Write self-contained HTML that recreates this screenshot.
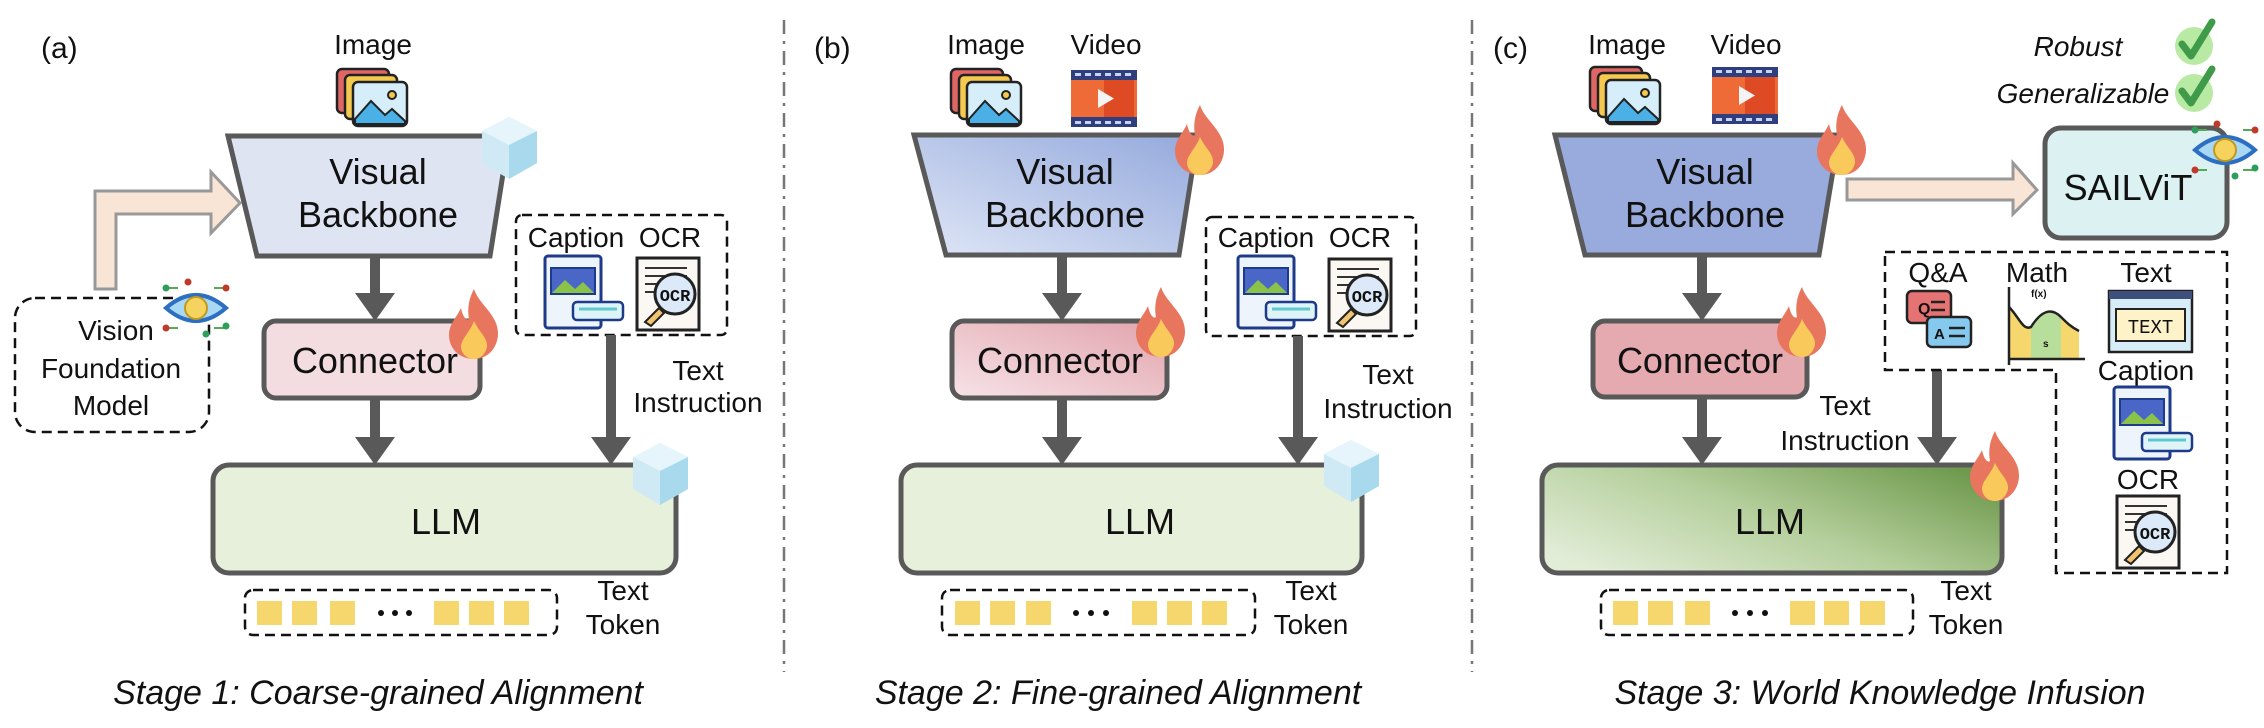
<!DOCTYPE html>
<html><head><meta charset="utf-8"><style>
html,body{margin:0;padding:0;background:#fff}
svg{display:block}
text{font-family:"Liberation Sans",Arial,sans-serif;fill:#111}
.big{font-size:36px}
.sm{font-size:28px}
.st{font-size:34px;font-style:italic}
.it{font-size:28px;font-style:italic}
</style></head><body>
<svg width="2264" height="728" viewBox="0 0 2264 728" xmlns="http://www.w3.org/2000/svg">
<defs>
<linearGradient id="gb" x1="0" y1="1" x2="1" y2="0"><stop offset="0" stop-color="#dfe6f6"/><stop offset="1" stop-color="#94a9dc"/></linearGradient>
<linearGradient id="gp" x1="0" y1="1" x2="1" y2="0"><stop offset="0" stop-color="#f6e3e7"/><stop offset="1" stop-color="#e2a3ac"/></linearGradient>
<linearGradient id="gl" x1="0" y1="0.8" x2="1" y2="0.2"><stop offset="0" stop-color="#e2edd8"/><stop offset="0.5" stop-color="#b5cf9c"/><stop offset="1" stop-color="#6f9a4e"/></linearGradient>
</defs>

<!-- separators -->
<line x1="784" y1="20" x2="784" y2="672" stroke="#777" stroke-width="2.5" stroke-dasharray="14 7 3 7"/>
<line x1="1472" y1="20" x2="1472" y2="672" stroke="#777" stroke-width="2.5" stroke-dasharray="14 7 3 7"/>

<!-- ================= PANEL A ================= -->
<text x="41" y="58" style="font-size:30px">(a)</text>
<text x="373" y="54" class="sm" text-anchor="middle">Image</text>
<g transform="translate(337,69)">
<rect x="0" y="0" width="52" height="44" rx="5" fill="#e06666" stroke="#222" stroke-width="2.5"/>
<rect x="8" y="6" width="52" height="44" rx="5" fill="#f5c94f" stroke="#222" stroke-width="2.5"/>
<rect x="16" y="13" width="54" height="44" rx="5" fill="#d6eefa" stroke="#222" stroke-width="2.5"/>
<path d="M18 50 L34 32 L48 46 L55 40 L68 52 L68 55 L18 55Z" fill="#4ab0e6" stroke="#222" stroke-width="2"/>
<circle cx="55" cy="26" r="4" fill="#f5c94f" stroke="#222" stroke-width="2"/>
</g>
<polygon points="228,136 509,136 490,256 257,256" fill="#dfe4f3" stroke="#595959" stroke-width="5"/>
<text x="378" y="184" class="big" text-anchor="middle">Visual</text>
<text x="378" y="227" class="big" text-anchor="middle">Backbone</text>
<g transform="translate(482,117)"><polygon points="27,0 55,14 55,46 27,62 0,46 0,14" fill="#cfeaf5"/><polygon points="27,0 55,14 27,28 0,14" fill="#e6f5fb"/><polygon points="27,28 55,14 55,46 27,62" fill="#a8d9ec"/></g>
<path d="M370 256 h10 v37 h15 l-20 28 l-20 -28 h15z" fill="#595959"/>
<rect x="264" y="321" width="216" height="77" rx="12" fill="#f3dde0" stroke="#595959" stroke-width="5"/>
<text x="375" y="373" class="big" text-anchor="middle">Connector</text>
<g transform="translate(448,289)"><path d="M26 0 C31 16 51 26 50 46 C49 60 39 70 26 70 C12 70 1 60 1 46 C1 35 9 28 13 19 C15 29 19 32 21 30 C19 20 21 9 26 0Z" fill="#e8765f"/><path d="M26 32 C31 43 40 49 39 58 C37 66 32 70 26 70 C19 70 13 65 13 57 C14 49 22 43 26 32Z" fill="#f9c95c"/></g>
<path d="M370 398 h10 v39 h15 l-20 28 l-20 -28 h15z" fill="#595959"/>
<rect x="213" y="465" width="463" height="108" rx="16" fill="#e6f0da" stroke="#595959" stroke-width="5"/>
<text x="446" y="534" class="big" text-anchor="middle">LLM</text>
<g transform="translate(633,443)"><polygon points="27,0 55,14 55,46 27,62 0,46 0,14" fill="#cfeaf5"/><polygon points="27,0 55,14 27,28 0,14" fill="#e6f5fb"/><polygon points="27,28 55,14 55,46 27,62" fill="#a8d9ec"/></g>
<rect x="245" y="590" width="312" height="45" rx="8" fill="none" stroke="#111" stroke-width="2.5" stroke-dasharray="10 6"/>
<g fill="#f5d76e"><rect x="257" y="601" width="25" height="24"/><rect x="292" y="601" width="25" height="24"/><rect x="330" y="601" width="25" height="24"/><rect x="434" y="601" width="25" height="24"/><rect x="469" y="601" width="25" height="24"/><rect x="504" y="601" width="25" height="24"/></g>
<g fill="#111"><circle cx="381" cy="613" r="3"/><circle cx="395" cy="613" r="3"/><circle cx="409" cy="613" r="3"/></g>
<text x="623" y="600" class="sm" text-anchor="middle">Text</text>
<text x="623" y="634" class="sm" text-anchor="middle">Token</text>
<rect x="516" y="215" width="211" height="120" rx="6" fill="none" stroke="#111" stroke-width="2.5" stroke-dasharray="10 6"/>
<text x="576" y="247" class="sm" text-anchor="middle">Caption</text>
<text x="670" y="247" class="sm" text-anchor="middle">OCR</text>
<g transform="translate(545,256)">
<rect x="0" y="0" width="56" height="72" rx="3" fill="#eef4fb" stroke="#1e3a8a" stroke-width="3"/>
<rect x="6" y="12" width="44" height="26" fill="#4a67c7" stroke="#1e3a8a" stroke-width="2"/>
<path d="M7 37 L20 24 L30 33 L38 26 L49 37Z" fill="#8bc34a"/>
<rect x="28" y="46" width="50" height="18" rx="4" fill="#dff4f6" stroke="#1e3a8a" stroke-width="2.5"/>
<line x1="34" y1="53" x2="72" y2="53" stroke="#5fc7d0" stroke-width="3"/>
</g>
<g transform="translate(637,258)">
<rect x="0" y="0" width="62" height="72" fill="#fbf7f2" stroke="#222" stroke-width="3"/>
<g stroke="#333" stroke-width="2"><line x1="8" y1="10" x2="50" y2="10"/><line x1="8" y1="18" x2="50" y2="18"/><line x1="8" y1="26" x2="20" y2="26"/><line x1="8" y1="34" x2="18" y2="34"/></g>
<circle cx="38" cy="36" r="20" fill="#dbe9f8" stroke="#222" stroke-width="3"/>
<text x="38" y="43" text-anchor="middle" style="font-size:17px;font-weight:bold;font-family:'Liberation Mono',monospace">OCR</text>
<path d="M22 50 L8 64 L14 68 L27 55Z" fill="#f2c46f" stroke="#222" stroke-width="2"/>
</g>
<path d="M606 335 h10 v102 h15 l-20 28 l-20 -28 h15z" fill="#595959"/>
<text x="698" y="380" class="sm" text-anchor="middle">Text</text>
<text x="698" y="412" class="sm" text-anchor="middle">Instruction</text>
<rect x="15" y="298" width="194" height="134" rx="20" fill="none" stroke="#111" stroke-width="2.5" stroke-dasharray="10 6"/>
<text x="116" y="340" class="sm" text-anchor="middle">Vision</text>
<text x="111" y="378" class="sm" text-anchor="middle">Foundation</text>
<text x="111" y="415" class="sm" text-anchor="middle">Model</text>
<g transform="translate(196,308)">
<path d="M-28 -20 h10 M18 -20 h10 M-28 20 h10 M18 20 h10" stroke="#5a5" stroke-width="2"/>
<circle cx="-30" cy="-20" r="3.5" fill="#2e9e5b"/><circle cx="-8" cy="-26" r="3.5" fill="#c0392b"/><circle cx="30" cy="-20" r="3.5" fill="#c0392b"/><circle cx="-30" cy="20" r="3.5" fill="#c0392b"/><circle cx="10" cy="26" r="3.5" fill="#2e9e5b"/><circle cx="30" cy="18" r="3.5" fill="#2e9e5b"/>
<path d="M-30 0 Q0 -26 30 0 Q0 26 -30 0Z" fill="#a9d8f5" stroke="#2c6fc2" stroke-width="4"/>
<circle cx="0" cy="0" r="11" fill="#f5d35e" stroke="#c09a1c" stroke-width="2"/>
</g>
<path d="M95 289 V191 H211 V172 L240 203 L211 233 V214 H116 V289Z" fill="#f8e5d6" stroke="#999" stroke-width="3"/>
<text x="378" y="704" class="st" text-anchor="middle">Stage 1: Coarse-grained Alignment</text>

<!-- ================= PANEL B ================= -->
<text x="814" y="58" style="font-size:30px">(b)</text>
<text x="986" y="54" class="sm" text-anchor="middle">Image</text>
<text x="1106" y="54" class="sm" text-anchor="middle">Video</text>
<g transform="translate(951,69)">
<rect x="0" y="0" width="52" height="44" rx="5" fill="#e06666" stroke="#222" stroke-width="2.5"/>
<rect x="8" y="6" width="52" height="44" rx="5" fill="#f5c94f" stroke="#222" stroke-width="2.5"/>
<rect x="16" y="13" width="54" height="44" rx="5" fill="#d6eefa" stroke="#222" stroke-width="2.5"/>
<path d="M18 50 L34 32 L48 46 L55 40 L68 52 L68 55 L18 55Z" fill="#4ab0e6" stroke="#222" stroke-width="2"/>
<circle cx="55" cy="26" r="4" fill="#f5c94f" stroke="#222" stroke-width="2"/>
</g>
<g transform="translate(1071,70)">
<rect x="0" y="0" width="66" height="57" fill="#ee6a36"/><rect x="33" y="10" width="30" height="37" fill="#dd4a24"/>
<rect x="0" y="0" width="66" height="10" fill="#2f3e7e"/><rect x="0" y="47" width="66" height="10" fill="#2f3e7e"/>
<g fill="#c9d3f0"><rect x="4" y="3" width="6" height="3"/><rect x="14" y="3" width="6" height="3"/><rect x="24" y="3" width="6" height="3"/><rect x="34" y="3" width="6" height="3"/><rect x="44" y="3" width="6" height="3"/><rect x="54" y="3" width="6" height="3"/><rect x="4" y="51" width="6" height="3"/><rect x="14" y="51" width="6" height="3"/><rect x="24" y="51" width="6" height="3"/><rect x="34" y="51" width="6" height="3"/><rect x="44" y="51" width="6" height="3"/><rect x="54" y="51" width="6" height="3"/></g>
<polygon points="27,19 43,28.5 27,38" fill="#f4f4f4"/>
</g>
<polygon points="914,135 1198,135 1179,255 946,255" fill="url(#gb)" stroke="#595959" stroke-width="5"/>
<text x="1065" y="184" class="big" text-anchor="middle">Visual</text>
<text x="1065" y="227" class="big" text-anchor="middle">Backbone</text>
<g transform="translate(1174,105)"><path d="M26 0 C31 16 51 26 50 46 C49 60 39 70 26 70 C12 70 1 60 1 46 C1 35 9 28 13 19 C15 29 19 32 21 30 C19 20 21 9 26 0Z" fill="#e8765f"/><path d="M26 32 C31 43 40 49 39 58 C37 66 32 70 26 70 C19 70 13 65 13 57 C14 49 22 43 26 32Z" fill="#f9c95c"/></g>
<path d="M1057 256 h10 v37 h15 l-20 28 l-20 -28 h15z" fill="#595959"/>
<rect x="952" y="321" width="215" height="77" rx="12" fill="url(#gp)" stroke="#595959" stroke-width="5"/>
<text x="1060" y="373" class="big" text-anchor="middle">Connector</text>
<g transform="translate(1135,287)"><path d="M26 0 C31 16 51 26 50 46 C49 60 39 70 26 70 C12 70 1 60 1 46 C1 35 9 28 13 19 C15 29 19 32 21 30 C19 20 21 9 26 0Z" fill="#e8765f"/><path d="M26 32 C31 43 40 49 39 58 C37 66 32 70 26 70 C19 70 13 65 13 57 C14 49 22 43 26 32Z" fill="#f9c95c"/></g>
<path d="M1057 398 h10 v39 h15 l-20 28 l-20 -28 h15z" fill="#595959"/>
<rect x="901" y="465" width="461" height="108" rx="16" fill="#e6f0da" stroke="#595959" stroke-width="5"/>
<text x="1140" y="534" class="big" text-anchor="middle">LLM</text>
<g transform="translate(1324,440)"><polygon points="27,0 55,14 55,46 27,62 0,46 0,14" fill="#cfeaf5"/><polygon points="27,0 55,14 27,28 0,14" fill="#e6f5fb"/><polygon points="27,28 55,14 55,46 27,62" fill="#a8d9ec"/></g>
<rect x="942" y="590" width="313" height="45" rx="8" fill="none" stroke="#111" stroke-width="2.5" stroke-dasharray="10 6"/>
<g fill="#f5d76e"><rect x="955" y="601" width="25" height="24"/><rect x="990" y="601" width="25" height="24"/><rect x="1026" y="601" width="25" height="24"/><rect x="1132" y="601" width="25" height="24"/><rect x="1167" y="601" width="25" height="24"/><rect x="1202" y="601" width="25" height="24"/></g>
<g fill="#111"><circle cx="1076" cy="613" r="3"/><circle cx="1091" cy="613" r="3"/><circle cx="1106" cy="613" r="3"/></g>
<text x="1311" y="600" class="sm" text-anchor="middle">Text</text>
<text x="1311" y="634" class="sm" text-anchor="middle">Token</text>
<rect x="1206" y="217" width="210" height="119" rx="6" fill="none" stroke="#111" stroke-width="2.5" stroke-dasharray="10 6"/>
<text x="1266" y="247" class="sm" text-anchor="middle">Caption</text>
<text x="1360" y="247" class="sm" text-anchor="middle">OCR</text>
<g transform="translate(1238,256)">
<rect x="0" y="0" width="56" height="72" rx="3" fill="#eef4fb" stroke="#1e3a8a" stroke-width="3"/>
<rect x="6" y="12" width="44" height="26" fill="#4a67c7" stroke="#1e3a8a" stroke-width="2"/>
<path d="M7 37 L20 24 L30 33 L38 26 L49 37Z" fill="#8bc34a"/>
<rect x="28" y="46" width="50" height="18" rx="4" fill="#dff4f6" stroke="#1e3a8a" stroke-width="2.5"/>
<line x1="34" y1="53" x2="72" y2="53" stroke="#5fc7d0" stroke-width="3"/>
</g>
<g transform="translate(1329,259)">
<rect x="0" y="0" width="62" height="72" fill="#fbf7f2" stroke="#222" stroke-width="3"/>
<g stroke="#333" stroke-width="2"><line x1="8" y1="10" x2="50" y2="10"/><line x1="8" y1="18" x2="50" y2="18"/><line x1="8" y1="26" x2="20" y2="26"/><line x1="8" y1="34" x2="18" y2="34"/></g>
<circle cx="38" cy="36" r="20" fill="#dbe9f8" stroke="#222" stroke-width="3"/>
<text x="38" y="43" text-anchor="middle" style="font-size:17px;font-weight:bold;font-family:'Liberation Mono',monospace">OCR</text>
<path d="M22 50 L8 64 L14 68 L27 55Z" fill="#f2c46f" stroke="#222" stroke-width="2"/>
</g>
<path d="M1293 336 h10 v101 h15 l-20 28 l-20 -28 h15z" fill="#595959"/>
<text x="1388" y="384" class="sm" text-anchor="middle">Text</text>
<text x="1388" y="418" class="sm" text-anchor="middle">Instruction</text>
<text x="1118" y="704" class="st" text-anchor="middle">Stage 2: Fine-grained Alignment</text>

<!-- ================= PANEL C ================= -->
<text x="1493" y="58" style="font-size:30px">(c)</text>
<text x="1627" y="54" class="sm" text-anchor="middle">Image</text>
<text x="1746" y="54" class="sm" text-anchor="middle">Video</text>
<g transform="translate(1590,67)">
<rect x="0" y="0" width="52" height="44" rx="5" fill="#e06666" stroke="#222" stroke-width="2.5"/>
<rect x="8" y="6" width="52" height="44" rx="5" fill="#f5c94f" stroke="#222" stroke-width="2.5"/>
<rect x="16" y="13" width="54" height="44" rx="5" fill="#d6eefa" stroke="#222" stroke-width="2.5"/>
<path d="M18 50 L34 32 L48 46 L55 40 L68 52 L68 55 L18 55Z" fill="#4ab0e6" stroke="#222" stroke-width="2"/>
<circle cx="55" cy="26" r="4" fill="#f5c94f" stroke="#222" stroke-width="2"/>
</g>
<g transform="translate(1712,67)">
<rect x="0" y="0" width="66" height="57" fill="#ee6a36"/><rect x="33" y="10" width="30" height="37" fill="#dd4a24"/>
<rect x="0" y="0" width="66" height="10" fill="#2f3e7e"/><rect x="0" y="47" width="66" height="10" fill="#2f3e7e"/>
<g fill="#c9d3f0"><rect x="4" y="3" width="6" height="3"/><rect x="14" y="3" width="6" height="3"/><rect x="24" y="3" width="6" height="3"/><rect x="34" y="3" width="6" height="3"/><rect x="44" y="3" width="6" height="3"/><rect x="54" y="3" width="6" height="3"/><rect x="4" y="51" width="6" height="3"/><rect x="14" y="51" width="6" height="3"/><rect x="24" y="51" width="6" height="3"/><rect x="34" y="51" width="6" height="3"/><rect x="44" y="51" width="6" height="3"/><rect x="54" y="51" width="6" height="3"/></g>
<polygon points="27,19 43,28.5 27,38" fill="#f4f4f4"/>
</g>
<polygon points="1555,135 1839,135 1819,255 1585,255" fill="#98abdc" stroke="#595959" stroke-width="5"/>
<text x="1705" y="184" class="big" text-anchor="middle">Visual</text>
<text x="1705" y="227" class="big" text-anchor="middle">Backbone</text>
<g transform="translate(1816,105)"><path d="M26 0 C31 16 51 26 50 46 C49 60 39 70 26 70 C12 70 1 60 1 46 C1 35 9 28 13 19 C15 29 19 32 21 30 C19 20 21 9 26 0Z" fill="#e8765f"/><path d="M26 32 C31 43 40 49 39 58 C37 66 32 70 26 70 C19 70 13 65 13 57 C14 49 22 43 26 32Z" fill="#f9c95c"/></g>
<path d="M1697 256 h10 v37 h15 l-20 28 l-20 -28 h15z" fill="#595959"/>
<rect x="1593" y="321" width="214" height="76" rx="12" fill="#e5aab0" stroke="#595959" stroke-width="5"/>
<text x="1700" y="373" class="big" text-anchor="middle">Connector</text>
<g transform="translate(1776,287)"><path d="M26 0 C31 16 51 26 50 46 C49 60 39 70 26 70 C12 70 1 60 1 46 C1 35 9 28 13 19 C15 29 19 32 21 30 C19 20 21 9 26 0Z" fill="#e8765f"/><path d="M26 32 C31 43 40 49 39 58 C37 66 32 70 26 70 C19 70 13 65 13 57 C14 49 22 43 26 32Z" fill="#f9c95c"/></g>
<path d="M1697 397 h10 v40 h15 l-20 28 l-20 -28 h15z" fill="#595959"/>
<rect x="1542" y="465" width="460" height="108" rx="16" fill="url(#gl)" stroke="#595959" stroke-width="5"/>
<text x="1770" y="534" class="big" text-anchor="middle">LLM</text>
<g transform="translate(1969,431)"><path d="M26 0 C31 16 51 26 50 46 C49 60 39 70 26 70 C12 70 1 60 1 46 C1 35 9 28 13 19 C15 29 19 32 21 30 C19 20 21 9 26 0Z" fill="#e8765f"/><path d="M26 32 C31 43 40 49 39 58 C37 66 32 70 26 70 C19 70 13 65 13 57 C14 49 22 43 26 32Z" fill="#f9c95c"/></g>
<rect x="1601" y="590" width="312" height="45" rx="8" fill="none" stroke="#111" stroke-width="2.5" stroke-dasharray="10 6"/>
<g fill="#f5d76e"><rect x="1613" y="601" width="25" height="24"/><rect x="1648" y="601" width="25" height="24"/><rect x="1685" y="601" width="25" height="24"/><rect x="1790" y="601" width="25" height="24"/><rect x="1824" y="601" width="25" height="24"/><rect x="1860" y="601" width="25" height="24"/></g>
<g fill="#111"><circle cx="1735" cy="613" r="3"/><circle cx="1750" cy="613" r="3"/><circle cx="1765" cy="613" r="3"/></g>
<text x="1966" y="600" class="sm" text-anchor="middle">Text</text>
<text x="1966" y="634" class="sm" text-anchor="middle">Token</text>
<path d="M1932 370 h10 v67 h15 l-20 28 l-20 -28 h15z" fill="#595959"/>
<text x="1845" y="415" class="sm" text-anchor="middle">Text</text>
<text x="1845" y="450" class="sm" text-anchor="middle">Instruction</text>
<path d="M1885 252 H2227 V573 H2056 V370 H1885 Z" fill="none" stroke="#111" stroke-width="2.5" stroke-dasharray="10 6"/>
<text x="1938" y="282" class="sm" text-anchor="middle">Q&amp;A</text>
<text x="2037" y="282" class="sm" text-anchor="middle">Math</text>
<text x="2146" y="282" class="sm" text-anchor="middle">Text</text>
<text x="2146" y="380" class="sm" text-anchor="middle">Caption</text>
<text x="2148" y="489" class="sm" text-anchor="middle">OCR</text>
<g transform="translate(1907,291)">
<rect x="0" y="0" width="44" height="32" rx="5" fill="#e57373" stroke="#222" stroke-width="2.5"/>
<text x="11" y="23" style="font-size:16px;font-weight:bold">Q</text>
<line x1="24" y1="11" x2="38" y2="11" stroke="#222" stroke-width="2.5"/><line x1="24" y1="19" x2="38" y2="19" stroke="#222" stroke-width="2.5"/>
<rect x="20" y="26" width="44" height="30" rx="5" fill="#86c9ee" stroke="#222" stroke-width="2.5"/>
<text x="27" y="48" style="font-size:15px;font-weight:bold">A</text>
<line x1="42" y1="37" x2="58" y2="37" stroke="#222" stroke-width="2.5"/><line x1="42" y1="45" x2="58" y2="45" stroke="#222" stroke-width="2.5"/>
</g>
<g transform="translate(2001,287)">
<path d="M8 20 C18 30 22 44 30 40 C40 24 50 20 60 30 C66 36 70 40 78 44 V72 H8Z" fill="#f5d76e"/>
<path d="M30 40 C40 24 50 20 60 30 V72 H30Z" fill="#b7df9b"/>
<path d="M8 20 C18 30 22 44 30 40 C40 24 50 20 60 30 C66 36 70 40 78 44" fill="none" stroke="#222" stroke-width="2.5"/>
<line x1="8" y1="72" x2="84" y2="72" stroke="#222" stroke-width="2.5"/><line x1="8" y1="0" x2="8" y2="78" stroke="#222" stroke-width="2.5"/>
<text x="30" y="10" style="font-size:10px;font-weight:bold">f(x)</text>
<text x="42" y="60" style="font-size:10px;font-weight:bold">s</text>
</g>
<g transform="translate(2109,291)">
<rect x="0" y="0" width="83" height="61" fill="#d6ecf7" stroke="#222" stroke-width="2.5"/>
<rect x="0" y="0" width="83" height="8" fill="#3d4f7a"/>
<rect x="7" y="18" width="69" height="32" fill="#fdf2c8" stroke="#222" stroke-width="2"/>
<text x="41.5" y="42" text-anchor="middle" style="font-size:19px;font-family:'Liberation Mono',monospace">TEXT</text>
</g>
<g transform="translate(2114,387)">
<rect x="0" y="0" width="56" height="72" rx="3" fill="#eef4fb" stroke="#1e3a8a" stroke-width="3"/>
<rect x="6" y="12" width="44" height="26" fill="#4a67c7" stroke="#1e3a8a" stroke-width="2"/>
<path d="M7 37 L20 24 L30 33 L38 26 L49 37Z" fill="#8bc34a"/>
<rect x="28" y="46" width="50" height="18" rx="4" fill="#dff4f6" stroke="#1e3a8a" stroke-width="2.5"/>
<line x1="34" y1="53" x2="72" y2="53" stroke="#5fc7d0" stroke-width="3"/>
</g>
<g transform="translate(2117,496)">
<rect x="0" y="0" width="62" height="72" fill="#fbf7f2" stroke="#222" stroke-width="3"/>
<g stroke="#333" stroke-width="2"><line x1="8" y1="10" x2="50" y2="10"/><line x1="8" y1="18" x2="50" y2="18"/><line x1="8" y1="26" x2="20" y2="26"/><line x1="8" y1="34" x2="18" y2="34"/></g>
<circle cx="38" cy="36" r="20" fill="#dbe9f8" stroke="#222" stroke-width="3"/>
<text x="38" y="43" text-anchor="middle" style="font-size:17px;font-weight:bold;font-family:'Liberation Mono',monospace">OCR</text>
<path d="M22 50 L8 64 L14 68 L27 55Z" fill="#f2c46f" stroke="#222" stroke-width="2"/>
</g>
<path d="M1847 179 H2013 V163 L2037 190 L2013 214 V200 H1847Z" fill="#f8e5d6" stroke="#999" stroke-width="3"/>
<rect x="2045" y="128" width="182" height="110" rx="16" fill="#dcf1f1" stroke="#595959" stroke-width="5"/>
<text x="2128" y="200" class="big" text-anchor="middle">SAILViT</text>
<g transform="translate(2225,150)">
<path d="M-28 -20 h10 M18 -20 h10 M-28 20 h10 M18 20 h10" stroke="#5a5" stroke-width="2"/>
<circle cx="-30" cy="-20" r="3.5" fill="#2e9e5b"/><circle cx="-8" cy="-26" r="3.5" fill="#c0392b"/><circle cx="30" cy="-20" r="3.5" fill="#c0392b"/><circle cx="-30" cy="20" r="3.5" fill="#c0392b"/><circle cx="10" cy="26" r="3.5" fill="#2e9e5b"/><circle cx="30" cy="18" r="3.5" fill="#2e9e5b"/>
<path d="M-30 0 Q0 -26 30 0 Q0 26 -30 0Z" fill="#a9d8f5" stroke="#2c6fc2" stroke-width="4"/>
<circle cx="0" cy="0" r="11" fill="#f5d35e" stroke="#c09a1c" stroke-width="2"/>
</g>
<text x="2078" y="56" class="it" text-anchor="middle">Robust</text>
<text x="2083" y="103" class="it" text-anchor="middle">Generalizable</text>
<g transform="translate(2194,46)"><circle r="19" fill="#b8eaa4"/><path d="M-12 -2 L-3 10 L18 -24" fill="none" stroke="#3f9a4a" stroke-width="7" stroke-linecap="round" stroke-linejoin="round"/></g>
<g transform="translate(2194,93)"><circle r="19" fill="#b8eaa4"/><path d="M-12 -2 L-3 10 L18 -24" fill="none" stroke="#3f9a4a" stroke-width="7" stroke-linecap="round" stroke-linejoin="round"/></g>
<text x="1880" y="704" class="st" text-anchor="middle">Stage 3: World Knowledge Infusion</text>
</svg>
</body></html>
